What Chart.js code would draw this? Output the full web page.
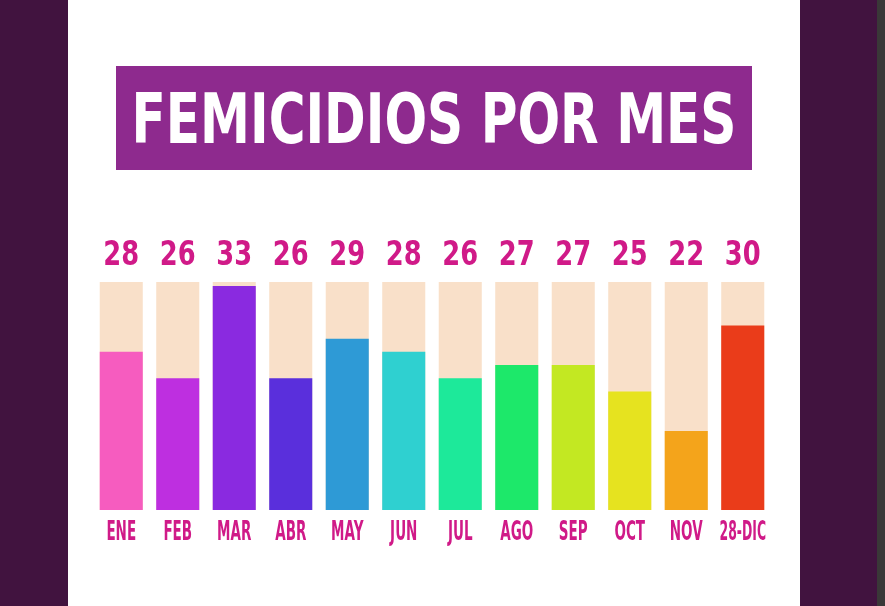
<!DOCTYPE html>
<html>
<head>
    <meta charset='utf-8'>
    <title>Femicidios por mes</title>
    <style>
        body { margin: 0; width: 885px; height: 606px; background: #41133f; position: relative; overflow: hidden; }
        #panel { position: absolute; left: 68px; top: 0; width: 732px; height: 606px; background: #ffffff; }
        #franja { position: absolute; left: 877px; top: 0; width: 8px; height: 606px; background: #3a3838; }
        #titulo { position: absolute; left: 116px; top: 66px; width: 636px; height: 104px; background: #8e2a8e; overflow: hidden; }
        #titulo canvas { position: absolute; left: 0; top: 0; }
        #grafico { position: absolute; left: 68px; top: 200px; width: 732px; height: 360px; }
    </style>
</head>
<body>
    <div id="panel"></div>
    <div id="franja"></div>
    <div id="titulo"><canvas id="tituloCanvas" width="636" height="104"></canvas></div>
    <div id="grafico"><canvas id="myChart"></canvas></div>

    <script src="https://cdn.jsdelivr.net/npm/chart.js"></script>
    <script>
const meses = ['ENE', 'FEB', 'MAR', 'ABR', 'MAY', 'JUN', 'JUL', 'AGO', 'SEP', 'OCT', 'NOV', '28-DIC'];
const casos = [28, 26, 33, 26, 29, 28, 26, 27, 27, 25, 22, 30];
const colores = ['#f65cbf', '#be2fe0', '#8a2ae0', '#5a2fdc', '#2e9ad6', '#2fd0d0',
                 '#1de99a', '#1de86a', '#c3e822', '#e6e31f', '#f4a41b', '#ea3c1a'];

const MAGENTA = '#d01a88';
const FONDO = '#f9e0c9';

// texto "condensado": se dibuja con escala horizontal
function textoAngosto(ctx, texto, x, y, size, escala, color) {
    ctx.save();
    ctx.font = `bold ${size}px "DejaVu Sans"`;
    ctx.fillStyle = color;
    ctx.textAlign = 'center';
    ctx.textBaseline = 'middle';
    ctx.translate(x, y);
    ctx.scale(escala, 1);
    ctx.fillText(texto, 0, 0);
    ctx.restore();
}

// titulo
(function() {
    const c = document.getElementById('tituloCanvas');
    const ctx = c.getContext('2d');
    const texto = 'FEMICIDIOS POR MES';
    ctx.font = 'bold 70px "DejaVu Sans"';
    const ancho = ctx.measureText(texto).width;
    textoAngosto(ctx, texto, 318, 59, 70, 605 / ancho, '#ffffff');
})();

const fondoBarras = {
    id: 'fondoBarras',
    beforeDatasetsDraw(chart) {
        const ctx = chart.ctx;
        const area = chart.chartArea;
        ctx.save();
        ctx.fillStyle = FONDO;
        chart.getDatasetMeta(0).data.forEach(bar => {
            ctx.fillRect(bar.x - bar.width / 2, area.top, bar.width, area.bottom - area.top);
        });
        ctx.restore();
    }
};

const etiquetas = {
    id: 'etiquetas',
    afterDatasetsDraw(chart) {
        const ctx = chart.ctx;
        const area = chart.chartArea;
        chart.getDatasetMeta(0).data.forEach((bar, i) => {
            textoAngosto(ctx, String(casos[i]), bar.x, area.top - 26, 33, 0.78, MAGENTA);
            const esc = meses[i].length > 3 ? 0.46 : 0.5;
            textoAngosto(ctx, meses[i], bar.x, area.bottom + 23, 27, esc, MAGENTA);
        });
    }
};

new Chart(document.getElementById('myChart'), {
    type: 'bar',
    data: {
        labels: meses,
        datasets: [{
            label: 'Femicidios',
            data: casos,
            backgroundColor: colores,
            borderWidth: 0,
            categoryPercentage: 1,
            barPercentage: 0.762
        }]
    },
    options: {
        responsive: true,
        maintainAspectRatio: false,
        animation: false,
        layout: { padding: { left: 25, right: 29, top: 82, bottom: 50 } },
        scales: {
            x: { display: false },
            y: { display: false, min: 16, max: 33.3 }
        },
        plugins: {
            legend: { display: false },
            tooltip: { enabled: false }
        }
    },
    plugins: [fondoBarras, etiquetas]
});
    </script>
</body>
</html>
